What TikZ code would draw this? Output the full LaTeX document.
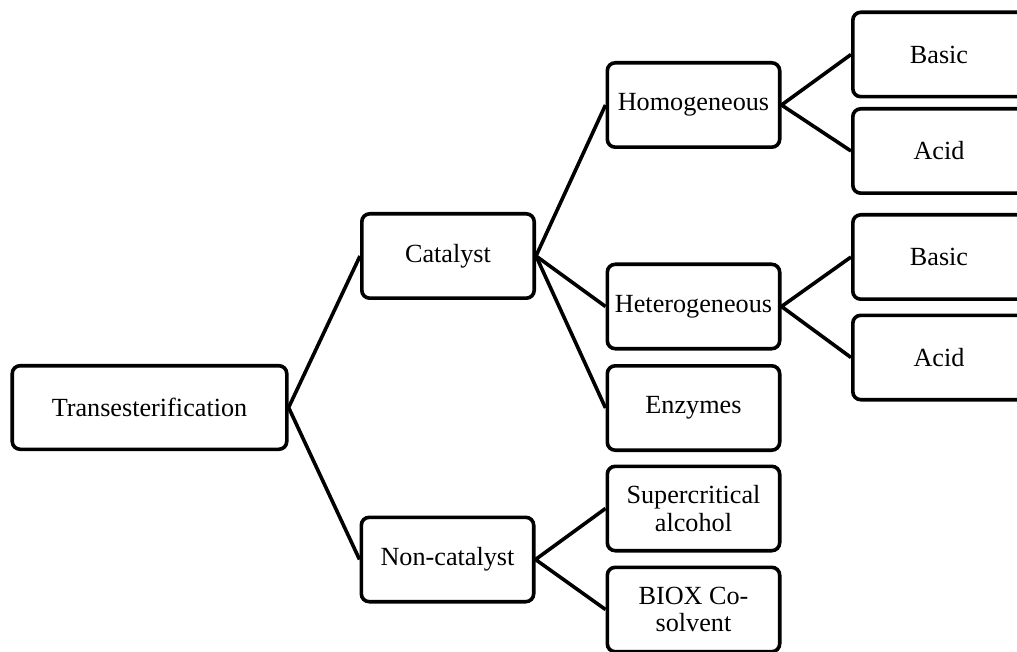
\documentclass[tikz,border=0pt]{standalone}
\usepackage{fontspec}
\setmainfont{Liberation Serif}
\usepackage{tikz}

\begin{document}
\begin{tikzpicture}[x=0.5pt, y=-0.5pt, line width=1.8pt,
  box/.style={draw, rounded corners=4pt, align=center, inner sep=1pt,
    minimum width=86.2pt, minimum height=42.2pt,
    font=\fontsize{13.1}{13.8}\selectfont},
  link/.style={line join=round}]
\useasboundingbox (0,0) rectangle (1017,652);
\clip (0,0) rectangle (1017,652);
% level 0 and 1
\node[box, minimum width=137.3pt, minimum height=41.8pt] (trans) at (149.5,407.5) {Transesterification};
\node[box] (cat) at (448,256) {Catalyst};
\node[box] (noncat) at (447.5,559.5) {Non-catalyst};
% level 2
\node[box] (homo) at (693.5,105) {Homogeneous};
\node[box] (hetero) at (693.5,306.5) {Heterogeneous};
\node[box] (enz) at (693.5,408) {Enzymes};
\node[box] (super) at (693.5,508.5) {Supercritical\\alcohol};
\node[box] (biox) at (693.5,609.5) {BIOX Co-\\solvent};
% level 3
\node[box] (basicA) at (939,54.5) {Basic};
\node[box] (acidA) at (939,151) {Acid};
\node[box] (basicB) at (939,257) {Basic};
\node[box] (acidB) at (939,357.5) {Acid};
% connectors
\draw[link] (cat.west) -- (trans.east) -- (noncat.west);
\draw[link] (homo.west) -- (cat.east) -- (hetero.west);
\draw[link] (cat.east) -- (enz.west);
\draw[link] (super.west) -- (noncat.east) -- (biox.west);
\draw[link] (basicA.west) -- (homo.east) -- (acidA.west);
\draw[link] (basicB.west) -- (hetero.east) -- (acidB.west);
\end{tikzpicture}
\end{document}
